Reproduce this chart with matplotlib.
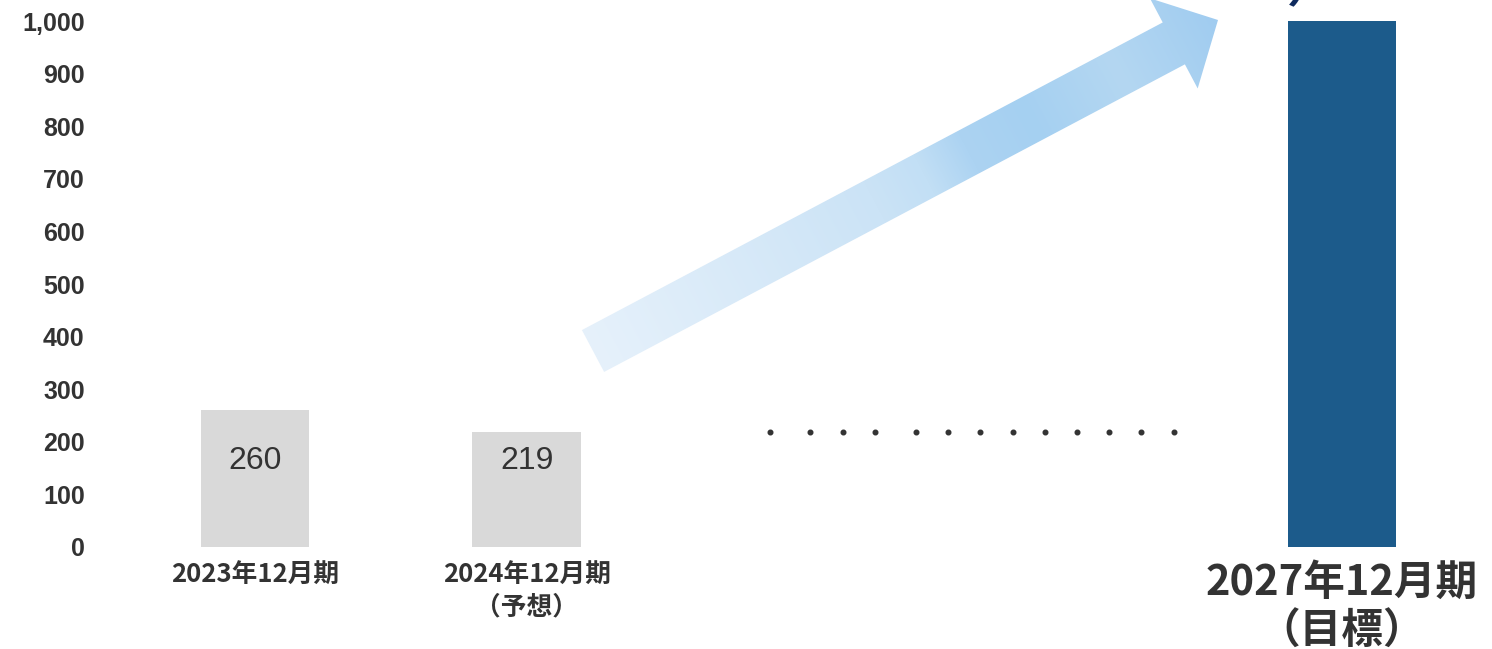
import matplotlib
matplotlib.use("Agg")
import matplotlib.pyplot as plt
import numpy as np
from matplotlib.patches import Polygon
from matplotlib.ticker import FuncFormatter

# data
periods = ["2023年12月期", "2024年12月期\n（予想）", "2027年12月期\n（目標）"]
values = [260, 219, 1000]
positions = [0, 1, 4]
value_labels = ["260", "219", ""]
yticks = list(range(0, 1001, 100))

GRAY = "#d9d9d9"
NAVY = "#1c5b8b"
TEXT = "#333333"

W, H = 1492, 649
fig = plt.figure(figsize=(W / 100, H / 100), dpi=100, facecolor="white")

# overlay in pixel coordinates for the gradient arrow (drawn under the bars)
ov = fig.add_axes([0, 0, 1, 1], zorder=0)
ov.axis("off")

# main axes, pixel frame: x 105.5..1478, y 0..547
ax = fig.add_axes([105.5 / W, 1 - 547 / H, 1372.3 / W, 547 / H], zorder=1)
ax.patch.set_alpha(0)
ax.bar(positions, values, width=0.4, color=[GRAY, GRAY, NAVY], zorder=2)
ax.set_xlim(-0.55, 4.5)
ax.set_ylim(0, 1040)
for s in ax.spines.values():
    s.set_visible(False)

ax.set_yticks(yticks)
ax.yaxis.set_major_formatter(FuncFormatter(lambda v, p: f"{int(v):,}"))
ax.tick_params(axis="y", length=0, pad=15, labelsize=18, labelcolor=TEXT)
for lbl in ax.get_yticklabels():
    lbl.set_fontweight("bold")
    lbl.set_family(["Liberation Sans", "DejaVu Sans"])

ax.set_xticks(positions)
ax.set_xticklabels(periods)
ax.tick_params(axis="x", length=0, pad=11, labelcolor=TEXT)
for i, lbl in enumerate(ax.get_xticklabels()):
    lbl.set_family(["Noto Sans CJK JP", "DejaVu Sans"])
    lbl.set_fontweight("bold")
    lbl.set_fontsize(30 if i == 2 else 18.5)
    lbl.set_linespacing(1.2)

for x, t in zip(positions, value_labels):
    if t:
        ax.text(x, 163, t, ha="center", va="center", fontsize=23,
                color=TEXT, family=["Liberation Sans", "DejaVu Sans"])

# dotted leader between the forecast and the target
dot_x = np.concatenate([[1.897], 2.044 + np.arange(3) * 0.1186,
                        2.432 + np.arange(9) * 0.1186])
ax.scatter(dot_x, np.full(len(dot_x), 219), s=11, color=TEXT, zorder=3)

# gradient arrow
tail = np.array([593.0, 351.0])
tip = np.array([1218.0, 20.0])
u = (tip - tail) / np.linalg.norm(tip - tail)
n = np.array([-u[1], u[0]])
shaft_hw, head_hw, head_len = 23.7, 51.0, 50.0
base = tip - head_len * u
pts = [tail - shaft_hw * n, base - shaft_hw * n, base - head_hw * n, tip,
       base + head_hw * n, base + shaft_hw * n, tail + shaft_hw * n]
poly = Polygon(pts, closed=True, facecolor="none", edgecolor="none")
ov.add_patch(poly)

x0, x1, y0, y1 = 560, 1240, -20, 400
xs, ys = np.meshgrid(np.arange(x0, x1), np.arange(y0, y1))
L = np.linalg.norm(tip - tail)
t = np.clip(((xs - tail[0]) * u[0] + (ys - tail[1]) * u[1]) / L, 0, 1)
stops = [0.0, 0.45, 0.53, 0.6, 0.7, 0.84, 1.0]
cols = np.array([[230, 241, 251], [203, 227, 246], [194, 223, 245],
                 [172, 211, 242], [165, 208, 241], [180, 215, 242],
                 [160, 204, 240]]) / 255
rgb = np.stack([np.interp(t, stops, cols[:, k]) for k in range(3)], axis=-1)
im = ov.imshow(rgb, extent=[x0, x1, y1, y0], origin="upper",
               interpolation="bilinear", aspect="auto")
im.set_clip_path(poly)
ov.set_xlim(0, W)
ov.set_ylim(H, 0)

# clipped piece of a heading above the target bar
ov.text(1311, 12, "）", ha="center", va="bottom", fontsize=34,
        fontweight="bold", color="#0e2b5e",
        family=["Noto Sans CJK JP", "DejaVu Sans"])

fig.savefig("out.png", dpi=100)
